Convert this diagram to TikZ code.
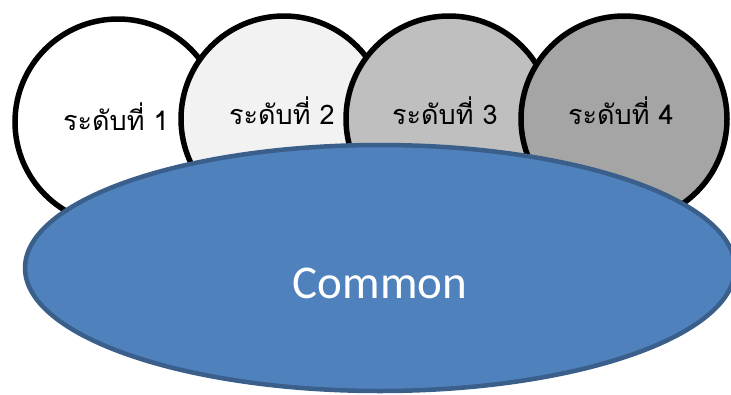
\documentclass[tikz,border=0pt]{standalone}
\usepackage{fontspec}
\setmainfont{Carlito}
\newfontfamily\thaifont[Script=Thai]{Loma}
\usetikzlibrary{shapes.geometric}
\definecolor{lvA}{HTML}{FFFFFF}
\definecolor{lvB}{HTML}{F2F2F2}
\definecolor{lvC}{HTML}{BFBFBF}
\definecolor{lvD}{HTML}{A5A5A5}
\definecolor{comfill}{HTML}{4F81BD}
\definecolor{comedge}{HTML}{3A5F8B}
\begin{document}
\begin{tikzpicture}[x=1pt,y=-1pt,
  level/.style={circle,draw=black,line width=5.5pt,minimum size=206pt,inner sep=0pt},
  lvtext/.style={font=\thaifont\fontsize{27}{30}\selectfont},
  common/.style={ellipse,draw=comedge,fill=comfill,line width=4.5pt,minimum width=710pt,
    minimum height=246pt,inner sep=0pt}]
\useasboundingbox (0,0) rectangle (731,394);
\node[level,fill=lvA] (l1) at (118,122) {};
\node[level,fill=lvB] (l2) at (284,119) {};
\node[level,fill=lvC] (l3) at (449,119) {};
\node[level,fill=lvD] (l4) at (624,119) {};
\node[lvtext] (t1) at (116,117) {ระดับที่ 1};
\node[lvtext] (t2) at (282,111) {ระดับที่ 2};
\node[lvtext] (t3) at (445,111) {ระดับที่ 3};
\node[lvtext] (t4) at (621,111) {ระดับที่ 4};
\node[common] (com) at (380,268) {};
\node[text=white,font=\fontsize{47}{50}\selectfont] (comt) at (380,283) {Common};
\end{tikzpicture}
\end{document}
